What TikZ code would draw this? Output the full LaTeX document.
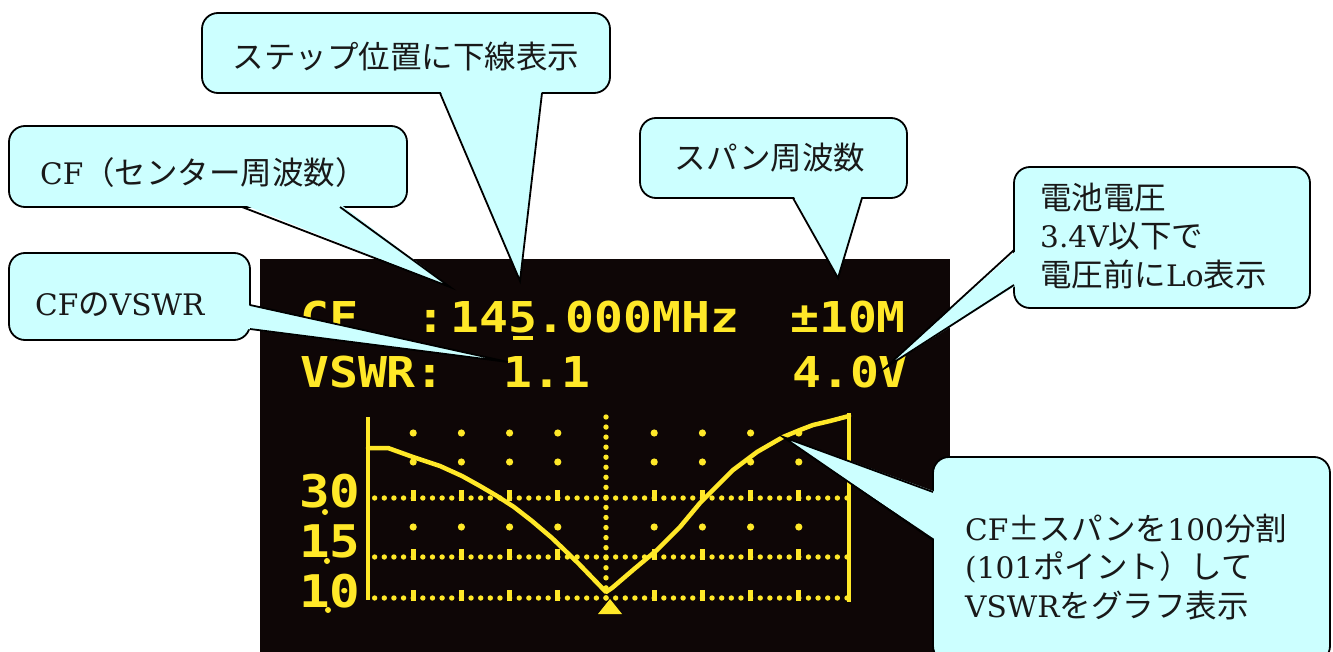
\documentclass[tikz,border=0pt]{standalone}
\usepackage{fontspec}
\usetikzlibrary{calc}
\setmainfont{DejaVu Serif}[Scale=0.94]
\newfontfamily\cjk{Noto Sans CJK JP}
\newfontfamily\oled[FakeStretch=1.13]{DejaVu Sans Mono Bold}
\definecolor{oly}{RGB}{255,232,40}
\definecolor{scr}{RGB}{14,6,6}
\definecolor{cbf}{RGB}{204,255,255}
\begin{document}
\begin{tikzpicture}[x=1pt,y=-1pt,
  callbox/.style={draw=black, line width=1.8pt, fill=cbf, rounded corners=16pt, outer sep=0pt, inner sep=0pt},
  wedgeline/.style={draw=black, line width=1.8pt, line join=miter, miter limit=20},
  ctext/.style={inner sep=0pt, text=black!90, font=\fontsize{31.5}{38.5}\selectfont},
  otext/.style={inner sep=0pt, anchor=base west, text=oly, font=\oled\fontsize{42.5}{42.5}\selectfont},
  olabel/.style={inner sep=0pt, anchor=base west, text=oly, font=\oled\fontsize{45}{45}\selectfont},
  gdot/.style={fill=oly},
]
\useasboundingbox (0,0) rectangle (1333,652);
\fill[white] (0,0) rectangle (1333,652);
% screen
\fill[scr] (260,259) rectangle (950,652);
% OLED text
\node[otext] (cf) at (300,332) {CF};
\node[otext] (colA) at (416,332) {:};
\node[otext] (freq) at (450,332) {145.000MHz};
\node[otext] (span) at (790,332) {±10M};
\node[otext] (vswr) at (300,387) {VSWR:};
\node[otext] (vval) at (503,387) {1.1};
\node[otext] (volt) at (792,387) {4.0V};
\fill[oly] (513,336) rectangle (533,340);
% graph labels
\node[olabel] (l30) at (299,507) {30};
\node[olabel] (l15) at (299,557) {15};
\node[olabel] (l10) at (299,607) {10};
\fill[oly] (325,512) circle[radius=3pt] (327,561) circle[radius=3pt] (328,610) circle[radius=3pt];
% dotted horizontal lines with ticks
\foreach \yy in {498,557,598}{
  \foreach \i in {-24,...,25}{
    \fill[gdot] (606+9.64*\i,\yy) circle[radius=2.7pt];
  }
  \foreach \k in {-4,-3,-2,-1,1,2,3,4}{
    \fill[gdot] (606+48.2*\k-2.5,\yy-8) rectangle (606+48.2*\k+2.5,\yy+2.5);
  }
}
% grid dots
\foreach \yy in {433,462,527}{
  \foreach \k in {-4,-3,-2,-1,1,2,3,4}{
    \fill[gdot] (606+48.2*\k,\yy) circle[radius=3.6pt];
  }
}
% centre dotted vertical
\foreach \j in {0,...,18}{
  \fill[gdot] (606,417+10.05*\j) circle[radius=2.7pt];
}
% axes
\draw[oly, line width=4.5pt] (368,417) -- (368,600);
\draw[oly, line width=4.5pt] (849,413) -- (849,602);
% VSWR curve
\draw[oly, line width=4.5pt, line join=round, line cap=round]
  (368,448) -- (388,448) -- (413,457) -- (440,466) -- (462,476) -- (480,486)
  -- (497,496) -- (514,507) -- (532,521) -- (552,538) -- (578,563) -- (606,592)
  -- (612,588) -- (633,570) -- (657,550) -- (680,527) -- (700,503) -- (733,470)
  -- (757,452) -- (783,437) -- (800,430) -- (813,425) -- (830,421) -- (849,416);
% marker
\fill[oly] (610,599) -- (622,614) -- (598,614) -- cycle;

% ---- callouts ----
\node[callbox, minimum width=408pt, minimum height=80pt] (boxA) at (406,53) {};
\node[callbox, minimum width=398pt, minimum height=81pt] (boxB) at (208,166.5) {};
\node[callbox, minimum width=241pt, minimum height=87pt] (boxC) at (129.5,296.5) {};
\node[callbox, minimum width=267pt, minimum height=80pt] (boxD) at (773.5,158) {};
\node[callbox, minimum width=296pt, minimum height=141pt] (boxE) at (1162,237.5) {};
\node[callbox, minimum width=397pt, minimum height=205pt] (boxF) at (1131.5,559.5) {};

\coordinate (tipA) at (520,281);
\coordinate (tipB) at (450,287);
\coordinate (tipC) at (508,362);
\coordinate (tipD) at (838,278);
\coordinate (tipE) at (885,368);
\coordinate (tipF) at (783,437);

% wedge A (bottom)
\fill[cbf] ([xshift=238pt,yshift=3pt]boxA.south west) -- (tipA) -- ([xshift=340pt,yshift=3pt]boxA.south west) -- cycle;
\draw[wedgeline] ([xshift=238pt]boxA.south west) -- (tipA) -- ([xshift=340pt]boxA.south west);
% wedge B (bottom)
\fill[cbf] ([xshift=233pt,yshift=3pt]boxB.south west) -- (tipB) -- ([xshift=331pt,yshift=3pt]boxB.south west) -- cycle;
\draw[wedgeline] ([xshift=233pt]boxB.south west) -- (tipB) -- ([xshift=331pt]boxB.south west);
% wedge C (right)
\fill[cbf] ([xshift=-3pt,yshift=-52pt]boxC.north east) -- (tipC) -- ([xshift=-3pt,yshift=-76pt]boxC.north east) -- cycle;
\draw[wedgeline] ([yshift=-52pt]boxC.north east) -- (tipC) -- ([yshift=-76pt]boxC.north east);
% wedge D (bottom)
\fill[cbf] ([xshift=153pt,yshift=3pt]boxD.south west) -- (tipD) -- ([xshift=222pt,yshift=3pt]boxD.south west) -- cycle;
\draw[wedgeline] ([xshift=153pt]boxD.south west) -- (tipD) -- ([xshift=222pt]boxD.south west);
% wedge E (left)
\fill[cbf] ([xshift=3pt,yshift=-83pt]boxE.north west) -- (tipE) -- ([xshift=3pt,yshift=-118pt]boxE.north west) -- cycle;
\draw[wedgeline] ([yshift=-83pt]boxE.north west) -- (tipE) -- ([yshift=-118pt]boxE.north west);
% wedge F (left)
\fill[cbf] ([xshift=3pt,yshift=-35pt]boxF.north west) -- (tipF) -- ([xshift=3pt,yshift=-83pt]boxF.north west) -- cycle;
\draw[wedgeline] ([yshift=-35pt]boxF.north west) -- (tipF) -- ([yshift=-83pt]boxF.north west);

% callout texts
\node[ctext] (tA) at (406,57) {\cjk ステップ位置に下線表示};
\node[ctext, anchor=west] (tB) at (40,173) {CF{\cjk （センター周波数）}};
\node[ctext, anchor=west] (tC) at (35,305) {CF{\cjk の}VSWR};
\node[ctext] (tD) at (770,158) {\cjk スパン周波数};
\node[ctext, anchor=west, align=left] (tE) at (1040,236) {{\cjk 電池電圧}\\3.4V{\cjk 以下で}\\{\cjk 電圧前に}Lo{\cjk 表示}};
\node[ctext, anchor=west, align=left] (tF) at (965,567) {CF{\cjk ±スパンを}100{\cjk 分割}\\(101{\cjk ポイント）して}\\VSWR{\cjk をグラフ表示}};
\end{tikzpicture}
\end{document}
